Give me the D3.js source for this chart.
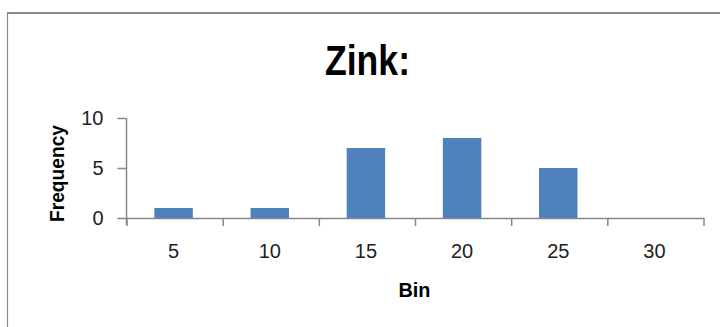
<!DOCTYPE html>
<html>
<head>
<meta charset="utf-8">
<script src="https://cdn.jsdelivr.net/npm/d3@7"></script>
<style>
  html, body { margin: 0; padding: 0; background: #fff; }
  svg { display: block; }
  text { font-family: "Liberation Sans Narrow", "Arial Narrow", "Liberation Sans", Arial, sans-serif; }
</style>
</head>
<body>
<svg id="chart" width="720" height="327"></svg>
<script>
// Histogram of zinc values per bin
const bins = ["5", "10", "15", "20", "25", "30"];
const frequency = [1, 1, 7, 8, 5, 0];
const yTicks = [0, 5, 10];

const title = "Zink:";
const xTitle = "Bin";
const yTitle = "Frequency";

const W = 720, H = 327;
const plot = { left: 126.5, right: 703.5, top: 118, bottom: 218 };
const axisColor = "#878787";
const barColor = "#4F81BD";

const svg = d3.select("#chart");

// outer frame of the chart area
svg.append("line")
  .attr("x1", 7).attr("x2", W).attr("y1", 13).attr("y2", 13)
  .attr("stroke", "#8a8a8a").attr("stroke-width", 2);
svg.append("line")
  .attr("x1", 7.5).attr("x2", 7.5).attr("y1", 12).attr("y2", H)
  .attr("stroke", "#8a8a8a").attr("stroke-width", 1.2);

const x = d3.scaleBand().domain(bins).range([plot.left, plot.right]).paddingInner(0).paddingOuter(0);
const y = d3.scaleLinear().domain([0, 10]).range([plot.bottom, plot.top]);

// bars: width is 40% of the category band
const barW = x.bandwidth() * 0.4;
svg.append("g").selectAll("rect")
  .data(bins.map((b, i) => ({ bin: b, value: frequency[i] })))
  .join("rect")
  .attr("x", d => x(d.bin) + x.bandwidth() / 2 - barW / 2 - 1)
  .attr("width", barW)
  .attr("y", d => y(d.value))
  .attr("height", d => y(0) - y(d.value))
  .attr("fill", barColor);

// y axis
const yAxis = svg.append("g")
  .attr("transform", `translate(${plot.left},0)`)
  .call(d3.axisLeft(y).tickValues(yTicks).tickSize(9).tickSizeOuter(0).tickPadding(14));
yAxis.select(".domain").attr("stroke", axisColor).attr("stroke-width", 1.5)
  .attr("d", `M0,${plot.top}V${plot.bottom + 7}`);
yAxis.selectAll(".tick line").attr("stroke", axisColor).attr("stroke-width", 1.5);
yAxis.selectAll(".tick text").attr("font-size", 20).attr("fill", "#222")
  .attr("font-family", null);

// x axis: ticks sit on the boundaries between bins
const edges = d3.scaleLinear().domain([0, bins.length]).range([plot.left, plot.right]);
const xAxis = svg.append("g")
  .attr("transform", `translate(0,${plot.bottom})`)
  .call(d3.axisBottom(edges).tickValues(d3.range(bins.length + 1)).tickSize(8).tickSizeOuter(0).tickFormat(""));
xAxis.select(".domain").attr("stroke", axisColor).attr("stroke-width", 1.5);
xAxis.selectAll(".tick line").attr("stroke", axisColor).attr("stroke-width", 1.5);

// category labels centred in each band
const xLabels = svg.append("g")
  .attr("transform", `translate(0,${plot.bottom})`)
  .call(d3.axisBottom(x).tickSize(0).tickPadding(0));
xLabels.select(".domain").remove();
xLabels.selectAll(".tick text")
  .attr("font-size", 20).attr("fill", "#222").attr("font-family", null)
  .attr("y", 39.5).attr("dy", null).attr("dx", -1);

// chart title
svg.append("text")
  .attr("x", 367.5).attr("y", 75)
  .attr("text-anchor", "middle")
  .attr("font-size", 42).attr("font-weight", "bold").attr("fill", "#000")
  .attr("textLength", 85).attr("lengthAdjust", "spacingAndGlyphs")
  .text(title);

// axis titles
svg.append("text")
  .attr("x", 414.5).attr("y", 297.3)
  .attr("text-anchor", "middle")
  .attr("font-size", 21).attr("font-weight", "bold").attr("fill", "#000")
  .attr("textLength", 32).attr("lengthAdjust", "spacingAndGlyphs")
  .text(xTitle);

svg.append("text")
  .attr("transform", "translate(63.5,173.5) rotate(-90)")
  .attr("text-anchor", "middle")
  .attr("font-size", 21).attr("font-weight", "bold").attr("fill", "#000")
  .attr("textLength", 97).attr("lengthAdjust", "spacingAndGlyphs")
  .text(yTitle);
</script>
</body>
</html>
